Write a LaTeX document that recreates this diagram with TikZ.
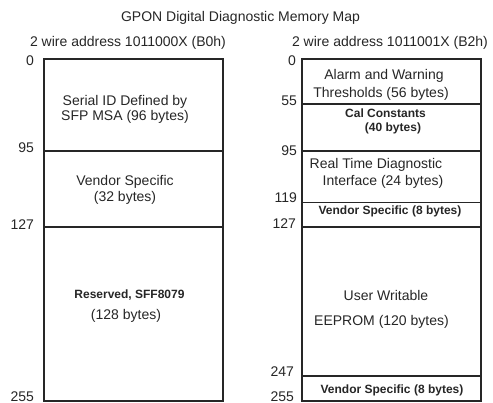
\documentclass[tikz,border=0pt]{standalone}
\usepackage{fontspec}
\setmainfont{Liberation Sans}
\begin{document}
\begin{tikzpicture}[x=1pt,y=-1pt,
  every node/.style={inner sep=0pt,outer sep=0pt,text=black!85},
  txt/.style={font=\fontsize{14}{16}\selectfont,anchor=base},
  btxt/.style={font=\fontsize{12}{14}\selectfont\bfseries,anchor=base},
  lbl/.style={font=\fontsize{14}{16}\selectfont,anchor=base east},
  mapline/.style={line width=1.6pt,draw=black!85}]
\useasboundingbox (0,0) rectangle (493,403);
% title and headers
\node[txt] (title) at (240.5,22) {GPON Digital Diagnostic Memory Map};
\node[txt] (hl) at (128,47) {2 wire address 1011000X (B0h)};
\node[txt] (hr) at (390,47) {2 wire address 1011001X (B2h)};
% left map
\draw[mapline] (44,59) rectangle (223,401);
\draw[mapline] (44,151) -- (223,151);
\draw[mapline] (44,227) -- (223,227);
\node[txt] (l1a) at (125,106) {Serial ID Defined by};
\node[txt] (l1b) at (125,121) {SFP MSA (96 bytes)};
\node[txt] (l2a) at (125,186) {Vendor Specific};
\node[txt] (l2b) at (125,202) {(32 bytes)};
\node[btxt] (l3a) at (129.5,299) {Reserved, SFF8079};
\node[txt] (l3b) at (126,320) {(128 bytes)};
\node[lbl] (la0) at (34,66) {0};
\node[lbl] (la95) at (34,153) {95};
\node[lbl] (la127) at (34,230) {127};
\node[lbl] (la255) at (34,401.5) {255};
% right map
\draw[mapline] (302,59) rectangle (481,401);
\draw[mapline] (302,104) -- (481,104);
\draw[mapline] (302,151) -- (481,151);
\draw[mapline] (302,202.5) -- (481,202.5);
\draw[mapline] (302,227) -- (481,227);
\draw[mapline] (302,376) -- (481,376);
\node[txt] (r1a) at (384,80) {Alarm and Warning};
\node[txt] (r1b) at (381,98) {Thresholds (56 bytes)};
\node[btxt] (r2a) at (385.5,117.5) {Cal Constants};
\node[btxt] (r2b) at (393,132) {(40 bytes)};
\node[txt] (r3a) at (376,169) {Real Time Diagnostic};
\node[txt] (r3b) at (383,186) {Interface (24 bytes)};
\node[btxt] (r4) at (390,215) {Vendor Specific (8 bytes)};
\node[txt] (r5a) at (386,301) {User Writable};
\node[txt] (r5b) at (381.5,326) {EEPROM (120 bytes)};
\node[btxt] (r6) at (392,394) {Vendor Specific (8 bytes)};
\node[lbl] (ra0) at (296,66) {0};
\node[lbl] (ra55) at (297,106) {55};
\node[lbl] (ra95) at (297,156) {95};
\node[lbl] (ra119) at (297,203) {119};
\node[lbl] (ra127) at (296,229) {127};
\node[lbl] (ra247) at (294,377) {247};
\node[lbl] (ra255) at (294,401.5) {255};
\end{tikzpicture}
\end{document}
